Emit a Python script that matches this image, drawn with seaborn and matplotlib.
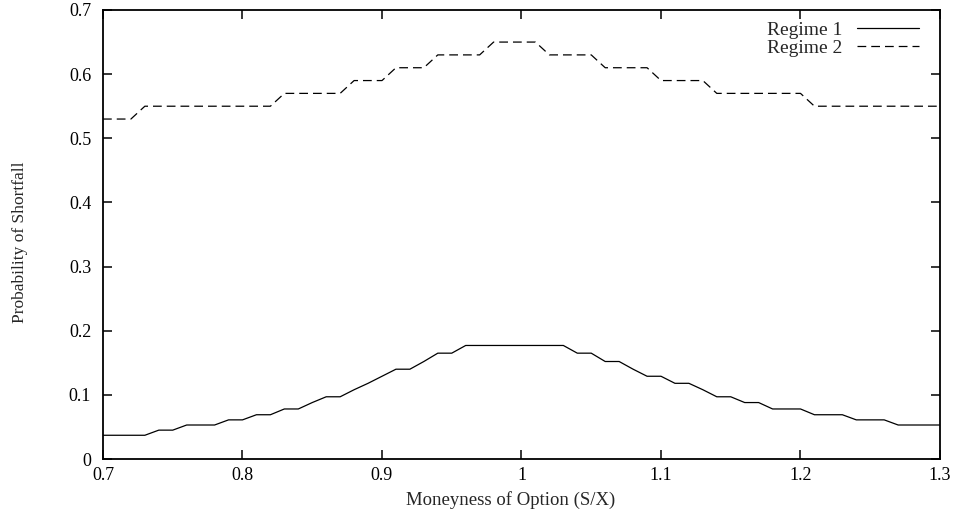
import matplotlib
matplotlib.use("Agg")
import matplotlib.pyplot as plt
import seaborn as sns
import pandas as pd

moneyness = [0.70, 0.71, 0.72, 0.73, 0.74, 0.75, 0.76, 0.77, 0.78, 0.79,
             0.80, 0.81, 0.82, 0.83, 0.84, 0.85, 0.86, 0.87, 0.88, 0.89,
             0.90, 0.91, 0.92, 0.93, 0.94, 0.95, 0.96, 0.97, 0.98, 0.99,
             1.00, 1.01, 1.02, 1.03, 1.04, 1.05, 1.06, 1.07, 1.08, 1.09,
             1.10, 1.11, 1.12, 1.13, 1.14, 1.15, 1.16, 1.17, 1.18, 1.19,
             1.20, 1.21, 1.22, 1.23, 1.24, 1.25, 1.26, 1.27, 1.28, 1.29,
             1.30]

regime1 = [0.037, 0.037, 0.037, 0.037, 0.045, 0.045, 0.053, 0.053, 0.053, 0.061,
           0.061, 0.069, 0.069, 0.078, 0.078, 0.088, 0.097, 0.097, 0.108, 0.118,
           0.129, 0.140, 0.140, 0.152, 0.165, 0.165, 0.177, 0.177, 0.177, 0.177,
           0.177, 0.177, 0.177, 0.177, 0.165, 0.165, 0.152, 0.152, 0.140, 0.129,
           0.129, 0.118, 0.118, 0.108, 0.097, 0.097, 0.088, 0.088, 0.078, 0.078,
           0.078, 0.069, 0.069, 0.069, 0.061, 0.061, 0.061, 0.053, 0.053, 0.053,
           0.053]

regime2 = [0.53, 0.53, 0.53, 0.55, 0.55, 0.55, 0.55, 0.55, 0.55, 0.55,
           0.55, 0.55, 0.55, 0.57, 0.57, 0.57, 0.57, 0.57, 0.59, 0.59,
           0.59, 0.61, 0.61, 0.61, 0.63, 0.63, 0.63, 0.63, 0.65, 0.65,
           0.65, 0.65, 0.63, 0.63, 0.63, 0.63, 0.61, 0.61, 0.61, 0.61,
           0.59, 0.59, 0.59, 0.59, 0.57, 0.57, 0.57, 0.57, 0.57, 0.57,
           0.57, 0.55, 0.55, 0.55, 0.55, 0.55, 0.55, 0.55, 0.55, 0.55,
           0.55]

series_names = ["Regime 1", "Regime 2"]
x_ticks = [0.7, 0.8, 0.9, 1.0, 1.1, 1.2, 1.3]
x_tick_labels = ["0.7", "0.8", "0.9", "1", "1.1", "1.2", "1.3"]
y_ticks = [0, 0.1, 0.2, 0.3, 0.4, 0.5, 0.6, 0.7]
y_tick_labels = ["0", "0.1", "0.2", "0.3", "0.4", "0.5", "0.6", "0.7"]

df = pd.DataFrame({
    "Moneyness": moneyness * 2,
    "Probability": regime1 + regime2,
    "Series": [series_names[0]] * len(moneyness) + [series_names[1]] * len(moneyness),
})

sns.set_theme(style="ticks")
plt.rcParams["font.family"] = ["Liberation Serif", "DejaVu Serif"]

W, H = 958, 515
L, R, T, B = 103, 940, 10, 459
fig = plt.figure(figsize=(W / 100, H / 100), dpi=100)
ax = fig.add_axes([L / W, 1 - B / H, (R - L) / W, (B - T) / H])

sns.lineplot(data=df, x="Moneyness", y="Probability", hue="Series", style="Series",
             palette={series_names[0]: "black", series_names[1]: "black"},
             dashes={series_names[0]: "", series_names[1]: (7, 4)},
             linewidth=0.9, ax=ax, legend=True)

ax.set_xlim(0.7, 1.3)
ax.set_ylim(0, 0.7)
ax.set_xticks(x_ticks)
ax.set_xticklabels(x_tick_labels)
ax.set_yticks(y_ticks)
ax.set_yticklabels(y_tick_labels)
ax.tick_params(direction="in", length=6.5, width=1.1, top=True, right=True,
               labelsize=13, colors="black")
ax.tick_params(axis="x", pad=5.4)
ax.tick_params(axis="y", pad=8.5)
for s in ax.spines.values():
    s.set_visible(True)
    s.set_linewidth(1.3)
    s.set_color("black")

ax.set_xlabel("Moneyness of Option (S/X)", fontsize=13.5)
ax.xaxis.set_label_coords((510.5 - L) / (R - L), (B - 491) / (B - T))
ax.set_ylabel("Probability of Shortfall", fontsize=12.5)
ax.yaxis.set_label_coords((28 - L) / (R - L), (B - 242) / (B - T))

handles, labels = ax.get_legend_handles_labels()
leg = ax.legend(handles, labels, loc="upper right", frameon=False, markerfirst=False,
                bbox_to_anchor=((919 - L) / (R - L), (B - 21) / (B - T)),
                borderaxespad=0, borderpad=0,
                handlelength=3.2, fontsize=14, labelspacing=0.02,
                handletextpad=0.75)
for h in leg.get_lines():
    h.set_linewidth(0.9)

fig.savefig("out.png", dpi=100)
